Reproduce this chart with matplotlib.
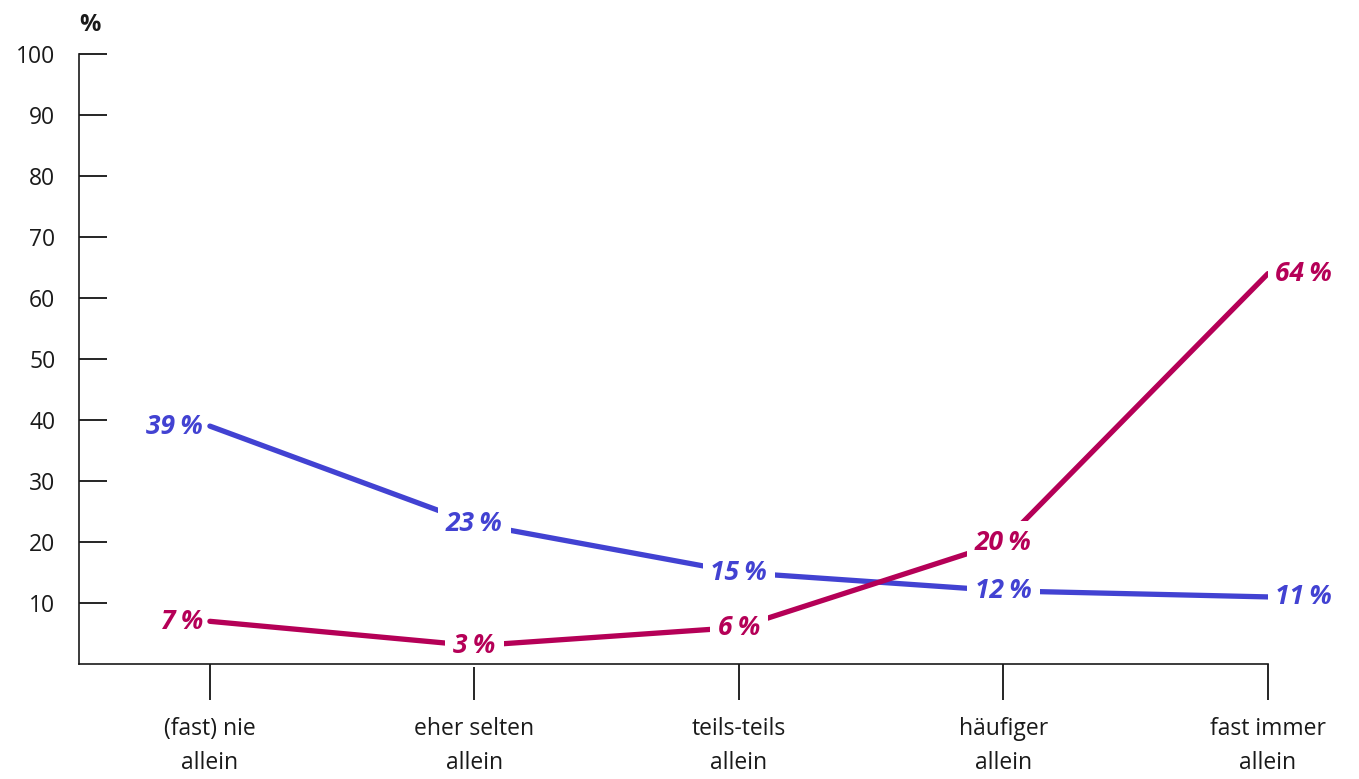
import numpy as np
import matplotlib.pyplot as plt

plt.rcParams['font.family'] = ['Open Sans', 'DejaVu Sans']

# data
categories = ['(fast) nie\nallein', 'eher selten\nallein', 'teils-teils\nallein',
              'häufiger\nallein', 'fast immer\nallein']
blue_vals = [39, 23, 15, 12, 11]
red_vals = [7, 3, 6, 20, 64]
y_ticks = [10, 20, 30, 40, 50, 60, 70, 80, 90, 100]

blue = '#4242D2'
red = '#B50057'

fig = plt.figure(figsize=(13.59, 7.79), dpi=100)
ax = fig.add_axes([0.0581, 0.1476, 0.933 - 0.0581, 0.9307 - 0.1476])

x = np.arange(len(categories))
ax.plot(x, blue_vals, color=blue, lw=3.8, solid_capstyle='round', zorder=2)
ax.plot(x, red_vals, color=red, lw=3.8, solid_capstyle='round', zorder=3)

# value labels
def label(i, v, color):
    txt = f'{v}\u2009%'
    kw = dict(color=color, fontsize=19, fontweight='bold', fontstyle='italic',
              va='center', zorder=5)
    if i == 0:
        ax.annotate(txt, (x[i], v), xytext=(-5, 0), textcoords='offset points',
                    ha='right', **kw)
    elif i == len(x) - 1:
        ax.annotate(txt, (x[i], v), xytext=(5, 0), textcoords='offset points',
                    ha='left', **kw)
    else:
        ax.annotate(txt, (x[i], v), ha='center',
                    bbox=dict(boxstyle='square,pad=0.3', fc='white', ec='none'), **kw)

for i in range(len(x)):
    label(i, blue_vals[i], blue)
    label(i, red_vals[i], red)

ax.set_xlim(-0.495, 4)
ax.set_ylim(0, 100)
ax.set_xticks(x)
ax.set_xticklabels(categories, fontsize=16.5, linespacing=1.55, color='#1a1a1a')
ax.set_yticks(y_ticks)
ax.set_yticklabels([str(t) for t in y_ticks], fontsize=16.5, color='#1a1a1a')

ax.tick_params(axis='x', direction='out', length=26, width=1.2, pad=12)
ax.tick_params(axis='y', direction='in', length=20, width=1.2, pad=17)
for s in ['top', 'right']:
    ax.spines[s].set_visible(False)
for s in ['left', 'bottom']:
    ax.spines[s].set_linewidth(1.2)
    ax.spines[s].set_color('#1a1a1a')
    ax.spines[s].set_zorder(6)

fig.text(90 / 1359, 1 - 25 / 779, '%', ha='center', va='center',
         fontsize=17, fontweight='bold', color='#1a1a1a')

fig.savefig('out.png', dpi=100)
